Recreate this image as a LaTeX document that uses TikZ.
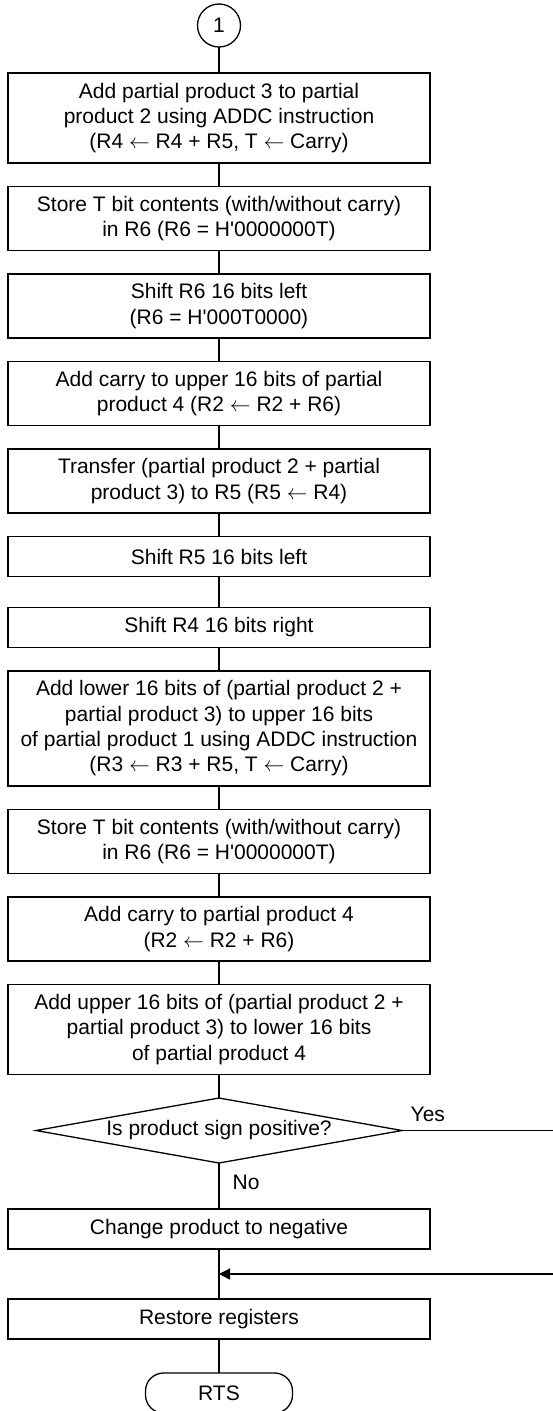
\documentclass[tikz,border=0pt]{standalone}
\usepackage{fontspec}
\setmainfont{Liberation Sans}
\usetikzlibrary{arrows.meta,positioning,shapes.geometric}

\begin{document}
\begin{tikzpicture}[x=1pt, y=1pt, line width=1.3pt, node distance=23.5pt, font=\fontsize{21}{25.3}\selectfont]
      \tikzstyle{block}=[draw, rectangle, minimum width=422pt, minimum height=40pt, align=center, inner sep=2pt, outer sep=0pt]
      \tikzstyle{two}=[block, minimum height=64pt]
      \tikzstyle{three}=[block, minimum height=90pt]
      \tikzstyle{four}=[block, minimum height=115pt]
      \tikzstyle{conn}=[draw, circle, minimum size=43pt, inner sep=0pt, outer sep=0pt]
      \tikzstyle{test}=[draw, diamond, aspect=5.6, minimum width=366pt, minimum height=65pt, inner sep=0pt, outer sep=0pt]
      \tikzstyle{term}=[draw, rectangle, rounded corners=18pt, minimum width=147pt, minimum height=40pt, outer sep=0pt]
      \tikzstyle{lbl}=[inner sep=0pt]

      \path[use as bounding box, clip] (0,0) rectangle (553,-1411);

      \node[conn] (C1) at (219,-25.5) {1};
      \node[three, below=26pt of C1] (S1) {Add partial product 3 to partial\\product 2 using ADDC instruction\\(R4 $\leftarrow$ R4 + R5, T $\leftarrow$ Carry)};
      \node[two, below=of S1] (S2) {Store T bit contents (with/without carry)\\in R6 (R6 = H\textquotesingle 0000000T)};
      \node[two, below=of S2] (S3) {Shift R6 16 bits left\\(R6 = H\textquotesingle 000T0000)};
      \node[two, below=of S3] (S4) {Add carry to upper 16 bits of partial\\product 4 (R2 $\leftarrow$ R2 + R6)};
      \node[two, below=of S4] (S5) {Transfer (partial product 2 + partial\\product 3) to R5 (R5 $\leftarrow$ R4)};
      \node[block, below=of S5] (S6) {Shift R5 16 bits left};
      \node[block, below=31pt of S6] (S7) {Shift R4 16 bits right};
      \node[four, below=of S7] (S8) {Add lower 16 bits of (partial product 2 +\\partial product 3) to upper 16 bits\\of partial product 1 using ADDC instruction\\(R3 $\leftarrow$ R3 + R5, T $\leftarrow$ Carry)};
      \node[two, below=of S8] (S9) {Store T bit contents (with/without carry)\\in R6 (R6 = H\textquotesingle 0000000T)};
      \node[two, below=of S9] (S10) {Add carry to partial product 4\\(R2 $\leftarrow$ R2 + R6)};
      \node[three, below=of S10] (S11) {Add upper 16 bits of (partial product 2 +\\partial product 3) to lower 16 bits\\of partial product 4};
      \node[test, below=of S11] (D1) {Is product sign positive?};
      \node[block, below=46pt of D1] (S12) {Change product to negative};
      \node[block, below=50pt of S12] (S13) {Restore registers};
      \node[term, below=34pt of S13] (E1) {RTS};

      \node[lbl, anchor=west] (yes) at ([xshift=8pt, yshift=16pt]D1.east) {Yes};
      \node[lbl, anchor=west] (no) at ([xshift=13pt, yshift=-19pt]D1.south) {No};
      \coordinate (R1) at (570,-1274);
      \coordinate (M1) at (S12.south |- R1);

      \draw (C1) -- (S1);
      \draw (S1) -- (S2);
      \draw (S2) -- (S3);
      \draw (S3) -- (S4);
      \draw (S4) -- (S5);
      \draw (S5) -- (S6);
      \draw (S6) -- (S7);
      \draw (S7) -- (S8);
      \draw (S8) -- (S9);
      \draw (S9) -- (S10);
      \draw (S10) -- (S11);
      \draw (S11) -- (D1);
      \draw (D1) -- (S12);
      \draw (S12) -- (S13);
      \draw (S13) -- (E1);
      \draw (D1.east) -- (D1.east -| R1) -- (R1);
      \draw[-{Triangle[length=11pt, width=11pt]}] (R1) -- (M1);
    \end{tikzpicture}
\end{document}
